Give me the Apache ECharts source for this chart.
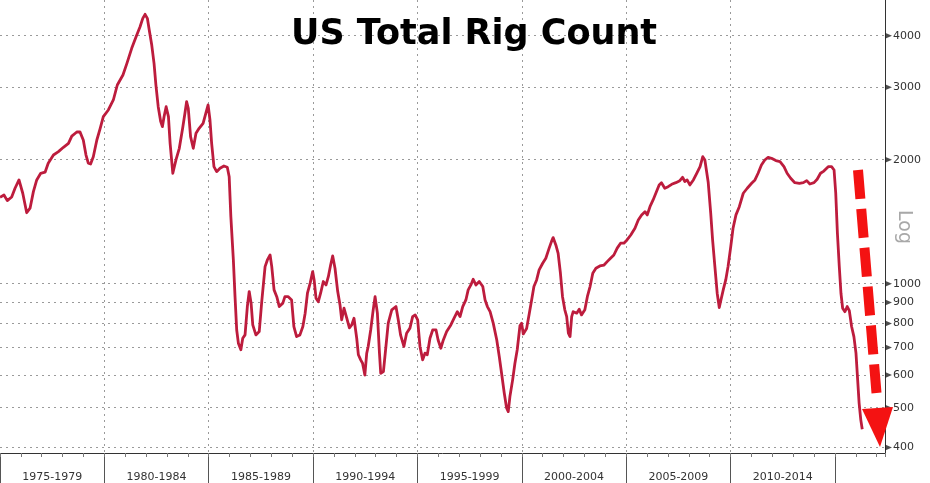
<!DOCTYPE html>
<html><head><meta charset="utf-8">
<script src="https://cdn.jsdelivr.net/npm/echarts@6/dist/echarts.min.js"></script>
<style>html,body{margin:0;padding:0;background:#fff}#c{width:930px;height:483px}</style>
</head><body><div id="c"></div>
<script>
const years = [
1975.00,1975.19,1975.35,1975.56,1975.72,1975.91,1976.09,1976.28,1976.44,1976.60,
1976.76,1976.95,1977.16,1977.31,1977.56,1977.80,1978.04,1978.28,1978.44,1978.68,
1978.83,1978.99,1979.12,1979.23,1979.34,1979.47,1979.64,1979.80,1979.95,1980.19,
1980.43,1980.62,1980.89,1981.08,1981.31,1981.52,1981.71,1981.84,1981.95,1982.06,
1982.15,1982.27,1982.38,1982.47,1982.58,1982.70,1982.78,1982.86,1982.96,1983.07,
1983.15,1983.28,1983.43,1983.59,1983.75,1983.86,1983.94,1984.02,1984.13,1984.26,
1984.39,1984.54,1984.73,1984.86,1984.97,1985.06,1985.14,1985.25,1985.38,1985.54,
1985.73,1985.89,1985.98,1986.06,1986.18,1986.26,1986.34,1986.42,1986.54,1986.63,
1986.74,1986.85,1986.94,1987.03,1987.11,1987.26,1987.42,1987.54,1987.70,1987.81,
1987.94,1988.02,1988.13,1988.26,1988.38,1988.55,1988.65,1988.81,1988.97,1989.08,
1989.21,1989.37,1989.51,1989.62,1989.73,1989.86,1989.98,1990.05,1990.14,1990.25,
1990.36,1990.49,1990.62,1990.73,1990.84,1990.94,1991.05,1991.18,1991.29,1991.37,
1991.48,1991.61,1991.74,1991.85,1991.96,1992.09,1992.17,1992.28,1992.37,1992.48,
1992.57,1992.64,1992.76,1992.88,1992.97,1993.08,1993.18,1993.24,1993.37,1993.49,
1993.60,1993.77,1993.97,1994.08,1994.19,1994.35,1994.48,1994.64,1994.77,1994.89,
1995.01,1995.12,1995.25,1995.36,1995.47,1995.60,1995.73,1995.89,1995.99,1996.12,
1996.24,1996.40,1996.60,1996.75,1996.91,1997.04,1997.17,1997.32,1997.43,1997.56,
1997.67,1997.80,1997.96,1998.13,1998.24,1998.35,1998.48,1998.63,1998.80,1998.92,
1999.03,1999.16,1999.27,1999.35,1999.43,1999.56,1999.67,1999.78,1999.91,1999.99,
2000.07,2000.23,2000.36,2000.47,2000.58,2000.71,2000.83,2001.00,2001.15,2001.31,
2001.42,2001.50,2001.63,2001.74,2001.85,2001.95,2002.06,2002.15,2002.23,2002.31,
2002.39,2002.46,2002.63,2002.75,2002.86,2003.02,2003.14,2003.27,2003.40,2003.55,
2003.74,2003.94,2004.09,2004.25,2004.41,2004.57,2004.73,2004.89,2005.04,2005.22,
2005.42,2005.58,2005.74,2005.90,2006.01,2006.14,2006.29,2006.42,2006.58,2006.69,
2006.85,2007.01,2007.18,2007.38,2007.57,2007.70,2007.81,2007.92,2008.05,2008.22,
2008.38,2008.54,2008.67,2008.77,2008.93,2009.05,2009.14,2009.25,2009.36,2009.46,
2009.54,2009.65,2009.77,2009.88,2010.01,2010.12,2010.26,2010.42,2010.61,2010.80,
2011.01,2011.17,2011.32,2011.48,2011.64,2011.80,2011.96,2012.17,2012.37,2012.56,
2012.71,2012.88,2013.08,2013.30,2013.49,2013.65,2013.80,2014.00,2014.15,2014.31,
2014.47,2014.68,2014.84,2014.96,2015.04,2015.12,2015.21,2015.29,2015.37,2015.48,
2015.59,2015.69,2015.80,2015.91,2016.01,2016.09,2016.16,2016.24,2016.31
];
const rigs = [
1621,1642,1591,1624,1705,1786,1658,1487,1525,1673,
1786,1854,1865,1961,2053,2092,2144,2192,2283,2335,
2337,2233,2053,1961,1953,2034,2233,2384,2544,2641,
2793,3037,3211,3428,3728,3978,4207,4409,4509,4409,
4130,3797,3428,3037,2690,2474,2406,2544,2690,2544,
2192,1854,1997,2132,2384,2593,2767,2667,2275,2132,
2318,2384,2452,2593,2716,2497,2192,1924,1871,1906,
1931,1918,1819,1455,1142,930,772,717,691,737,
751,880,957,897,794,751,765,904,1100,1142,
1174,1100,966,930,880,897,930,930,913,787,
744,751,787,848,948,1003,1070,1021,922,904,
948,1012,993,1040,1110,1168,1090,957,888,817,
872,826,781,794,824,737,672,653,641,600,
678,704,772,864,930,848,678,606,612,704,
802,864,880,817,751,704,758,780,832,840,
817,704,653,678,672,737,772,772,730,697,
730,765,794,824,855,832,880,913,966,993,
1025,993,1012,984,913,880,855,802,730,665,
606,542,499,489,532,584,641,691,790,802,
755,778,848,913,984,1021,1080,1121,1153,1220,
1265,1294,1242,1185,1060,930,864,832,758,744,
832,855,848,867,840,864,930,984,1060,1090,
1104,1110,1131,1153,1174,1220,1254,1254,1277,1313,
1363,1428,1469,1496,1469,1538,1597,1658,1737,1759,
1705,1720,1743,1759,1779,1813,1771,1786,1737,1786,
1854,1924,2034,1997,1763,1483,1277,1100,948,875,
913,966,1021,1100,1230,1363,1469,1538,1658,1705,
1753,1786,1854,1942,1997,2027,2016,1990,1979,1924,
1854,1803,1759,1753,1759,1779,1746,1759,1793,1854,
1877,1924,1924,1888,1658,1326,1100,948,872,855,
880,860,787,744,678,584,513,467,443
];
const yTicks = [400, 500, 600, 700, 800, 900, 1000, 2000, 3000, 4000];
const bandStarts = [1975, 1980, 1985, 1990, 1995, 2000, 2005, 2010];
const bandLabels = ['1975-1979','1980-1984','1985-1989','1990-1994','1995-1999','2000-2004','2005-2009','2010-2014'];
const separators = [1975, 1980, 1985, 1990, 1995, 2000, 2005, 2010, 2015];
const xMin = 1975, xMax = 2017.4, yMin = 388, yMax = 4885;

const FONT = 'DejaVu Sans';
const chart = echarts.init(document.getElementById('c'), null, {renderer: 'canvas'});
const grid = {left: 0, right: 45, top: 0, bottom: 30, containLabel: false};
const dotted = {color: '#9a9a9a', width: 1, type: [2, 4]};

chart.setOption({
  animation: false,
  backgroundColor: '#fff',
  title: {
    text: 'US Total Rig Count', left: 286, top: 12,
    textStyle: {fontFamily: FONT, fontWeight: 'bold', fontSize: 35, color: '#000'}
  },
  grid: grid,
  xAxis: [{
    type: 'value', min: xMin, max: xMax, position: 'bottom',
    axisLine: {show: true, lineStyle: {color: '#333', width: 1}},
    axisTick: {show: true, customValues: separators, length: 30, lineStyle: {color: '#555', width: 1}},
    axisLabel: {
      show: true, customValues: bandStarts.map(s => s + 2.5), margin: 19,
      fontFamily: FONT, fontSize: 11, color: '#333',
      formatter: v => bandLabels[bandStarts.indexOf(Math.round(v - 2.5))] || ''
    },
    splitLine: {show: true, showMinLine: false, showMaxLine: false, lineStyle: dotted}
  }, {
    type: 'value', min: xMin, max: xMax, interval: 1, position: 'bottom',
    axisLine: {show: false},
    axisTick: {show: true, length: 4, lineStyle: {color: '#777', width: 1}},
    axisLabel: {show: false},
    splitLine: {show: false}
  }],
  yAxis: {
    type: 'log', logBase: 10, min: yMin, max: yMax, position: 'right',
    axisLine: {show: true, lineStyle: {color: '#333', width: 1}},
    axisTick: {show: false, customValues: yTicks},
    axisLabel: {show: true, customValues: yTicks, margin: 8, fontFamily: FONT, fontSize: 11, color: '#333',
      formatter: v => String(Math.round(v))},
    splitLine: {show: true, showMinLine: true, showMaxLine: true, lineStyle: dotted},
    minorTick: {show: false}, minorSplitLine: {show: false}
  },
  series: [{
    type: 'line', xAxisIndex: 0, yAxisIndex: 0,
    data: years.map((y, i) => [y, rigs[i]]),
    showSymbol: false, symbol: 'none', silent: true, z: 3,
    lineStyle: {color: '#bd1c3d', width: 2.8, join: 'round'}
  }, {
    type: 'scatter', xAxisIndex: 0, yAxisIndex: 0,
    data: yTicks.map(v => [xMax, v]),
    symbol: 'triangle', symbolSize: [6, 7], symbolRotate: -90, symbolOffset: [3.5, 0],
    itemStyle: {color: '#222'}, clip: false, silent: true, z: 4
  }],
  graphic: [
    {type: 'text', x: 904, y: 227, rotation: -Math.PI / 2, silent: true,
     style: {text: 'Log', font: '19px "DejaVu Sans"', fill: '#a8a8a8', align: 'center', verticalAlign: 'middle'}},
    {type: 'line', silent: true, z: 10,
     shape: {x1: 858, y1: 170, x2: 876.5, y2: 393},
     style: {stroke: '#f41212', lineWidth: 10, lineDash: [29, 10]}},
    {type: 'polygon', silent: true, z: 10,
     shape: {points: [[862, 409], [893, 407], [880, 447]]},
     style: {fill: '#f41212'}}
  ]
});
</script></body></html>
